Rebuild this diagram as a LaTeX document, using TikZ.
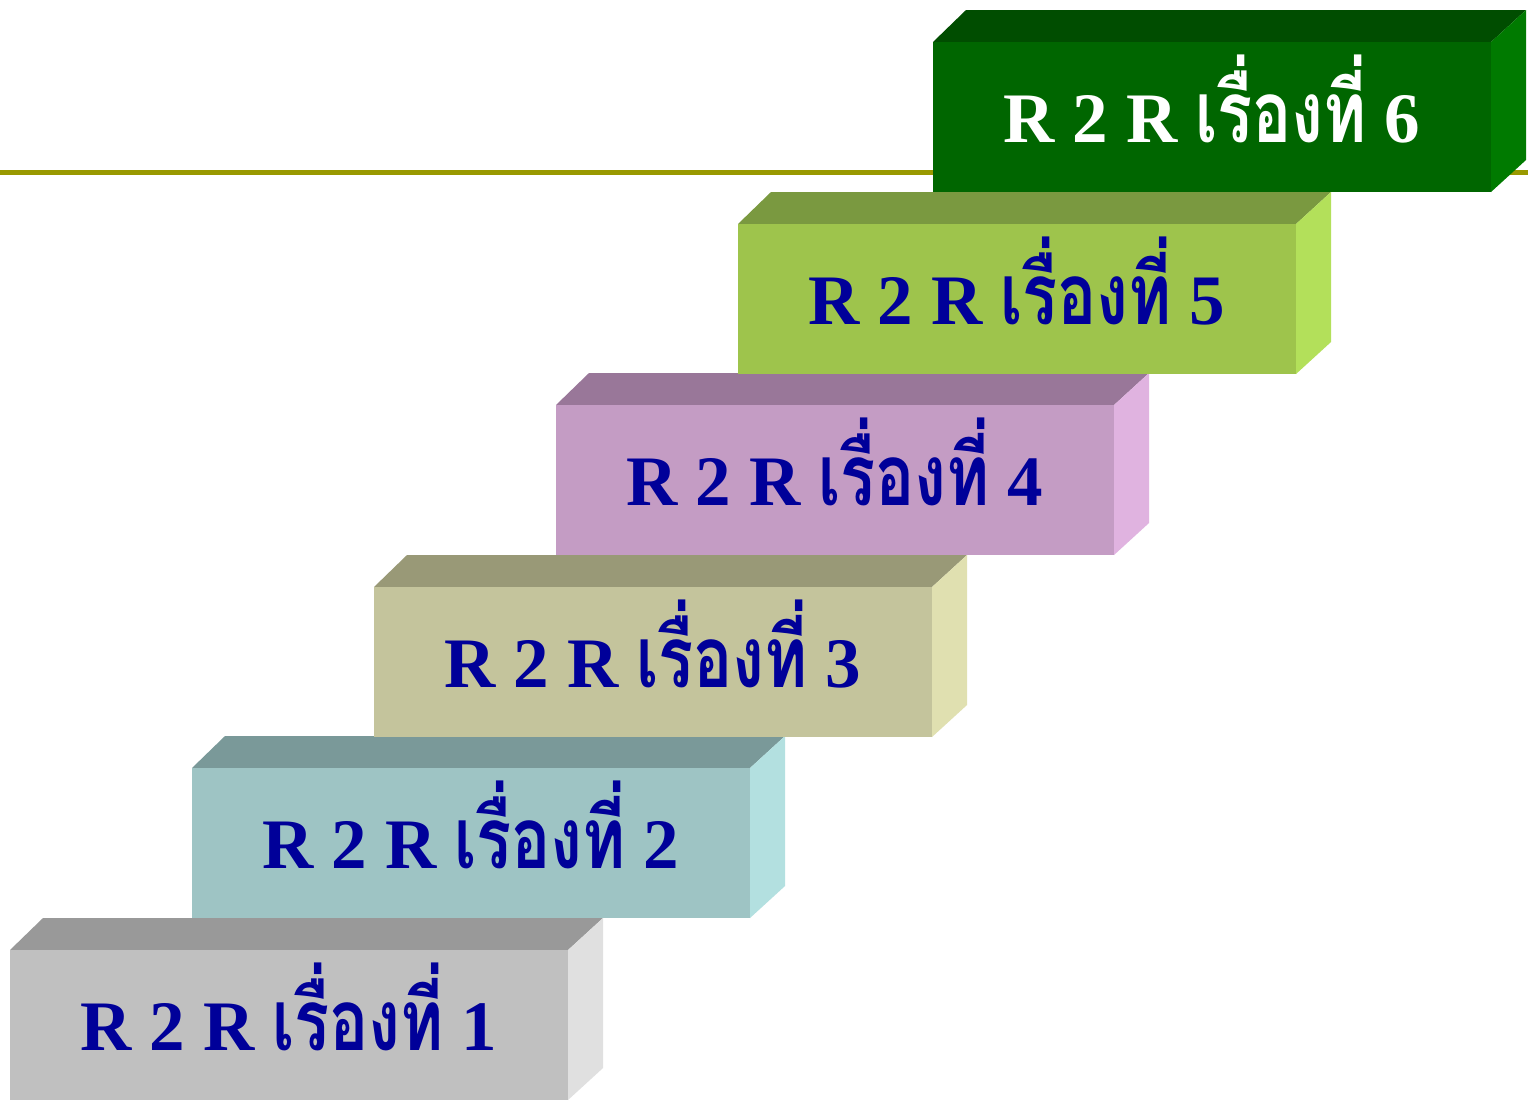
\documentclass[tikz,border=0pt]{standalone}
\usepackage{fontspec}
\setmainfont{Liberation Serif}
\newfontfamily\thaifont[Script=Thai]{Loma}
\definecolor{olive}{RGB}{153,153,0}
\definecolor{txtblue}{RGB}{0,0,153}
% box colours: front, top, side
\definecolor{fA}{RGB}{192,192,192}\definecolor{tA}{RGB}{153,153,153}\definecolor{sA}{RGB}{224,224,224}
\definecolor{fB}{RGB}{158,196,196}\definecolor{tB}{RGB}{122,153,153}\definecolor{sB}{RGB}{179,224,224}
\definecolor{fC}{RGB}{196,196,156}\definecolor{tC}{RGB}{153,153,119}\definecolor{sC}{RGB}{224,224,176}
\definecolor{fD}{RGB}{196,156,196}\definecolor{tD}{RGB}{153,119,153}\definecolor{sD}{RGB}{224,179,224}
\definecolor{fE}{RGB}{158,196,76}\definecolor{tE}{RGB}{122,153,64}\definecolor{sE}{RGB}{179,224,90}
\definecolor{fF}{RGB}{0,102,0}\definecolor{tF}{RGB}{0,77,0}\definecolor{sF}{RGB}{0,122,0}
\newcommand\rlabel[1]{R 2 R \scalebox{0.92}[1.2]{\thaifont เรื่องที่} #1}
\tikzset{
  lbl/.style={anchor=base, inner sep=0pt, font=\fontsize{71}{80}\selectfont\bfseries, text=txtblue},
}
% \stepbox{front x}{front top y}{front col}{top col}{side col}{name}{label}{text colour}
\newcommand\stepbox[8]{%
  \fill[#4] (#1,#2) -- (#1+33,#2-32) -- (#1+593,#2-32) -- (#1+558,#2) -- cycle;
  \fill[#5] (#1+558,#2) -- (#1+593,#2-32) -- (#1+593,#2+118) -- (#1+558,#2+150) -- cycle;
  \fill[#3] (#1,#2) rectangle (#1+558,#2+150);
  \node[lbl, text=#8] (#6) at (#1+279,#2+100) {\rlabel{#7}};
}
\begin{document}
\begin{tikzpicture}[x=1pt,y=-1pt]
\useasboundingbox (0,0) rectangle (1528,1104);
\fill[white] (0,0) rectangle (1528,1104);
\coordinate (lineL) at (0,172.5);
\coordinate (lineR) at (1528,172.5);
\draw[olive, line width=4.5pt] (lineL) -- (lineR);
\stepbox{10}{950}{fA}{tA}{sA}{s1}{1}{txtblue}
\stepbox{192}{768}{fB}{tB}{sB}{s2}{2}{txtblue}
\stepbox{374}{587}{fC}{tC}{sC}{s3}{3}{txtblue}
\stepbox{556}{405}{fD}{tD}{sD}{s4}{4}{txtblue}
\stepbox{738}{224}{fE}{tE}{sE}{s5}{5}{txtblue}
\stepbox{933}{42}{fF}{tF}{sF}{s6}{6}{white}
\end{tikzpicture}
\end{document}
